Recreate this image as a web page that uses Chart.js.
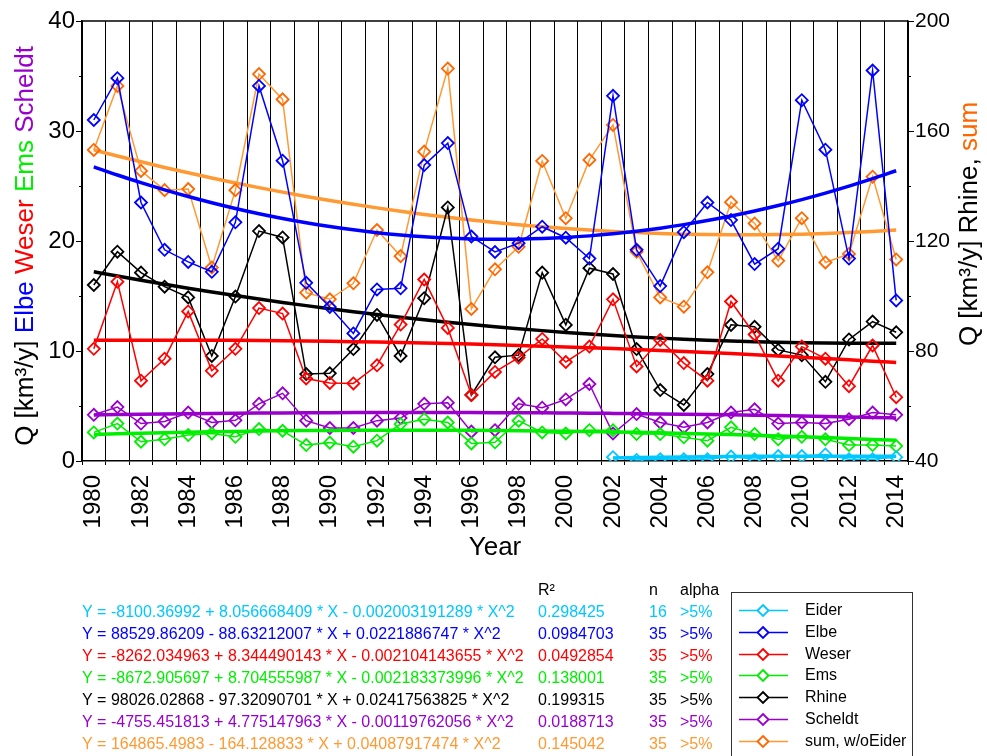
<!DOCTYPE html>
<html>
<head>
<meta charset="utf-8">
<style>
  html, body { margin: 0; padding: 0; background: #fff; }
  #chart { display: block; }
</style>
</head>
<body>
<canvas id="chart" width="987" height="756"></canvas>

<script src="https://cdn.jsdelivr.net/npm/chart.js@4"></script>

<script>
  const years = [1980, 1981, 1982, 1983, 1984, 1985, 1986, 1987, 1988, 1989,
    1990, 1991, 1992, 1993, 1994, 1995, 1996, 1997, 1998, 1999,
    2000, 2001, 2002, 2003, 2004, 2005, 2006, 2007, 2008, 2009,
    2010, 2011, 2012, 2013, 2014];

  // km3/y, left axis
  const eider = [null, null, null, null, null, null, null, null, null, null,
    null, null, null, null, null, null, null, null, null, null,
    null, null, 0.35, 0.1, 0.15, 0.15, 0.15, 0.4, 0.15, 0.45,
    0.45, 0.6, 0.15, 0.15, 0.35];
  const elbe = [31.0, 34.8, 23.5, 19.2, 18.1, 17.2, 21.7, 34.1, 27.3, 16.2,
    14.0, 11.6, 15.6, 15.7, 26.9, 28.9, 20.4, 19.0, 19.8, 21.3,
    20.3, 18.4, 33.2, 19.2, 15.9, 20.8, 23.5, 21.9, 17.9, 19.3,
    32.8, 28.3, 18.4, 35.5, 14.6];
  const weser = [10.2, 16.3, 7.3, 9.3, 13.6, 8.2, 10.2, 13.9, 13.4, 7.5,
    7.1, 7.05, 8.7, 12.4, 16.5, 12.1, 6.0, 8.1, 9.4, 11.1,
    9.0, 10.4, 14.7, 8.6, 11.0, 8.9, 7.3, 14.5, 11.5, 7.3,
    10.4, 9.3, 6.8, 10.5, 5.8];
  const ems = [2.6, 3.4, 1.75, 1.97, 2.36, 2.5, 2.2, 2.9, 2.75, 1.45,
    1.67, 1.3, 1.85, 3.36, 3.8, 3.5, 1.6, 1.7, 3.67, 2.6,
    2.5, 2.8, 2.8, 2.45, 2.45, 2.15, 1.85, 3.06, 2.45, 1.97,
    2.2, 1.97, 1.45, 1.45, 1.36];
  const scheldt = [4.2, 4.9, 3.4, 3.6, 4.4, 3.5, 3.7, 5.2, 6.15, 3.67,
    3.0, 3.0, 3.67, 3.9, 5.2, 5.3, 2.67, 2.8, 5.2, 4.85,
    5.6, 7.0, 2.5, 4.27, 3.5, 3.06, 3.5, 4.4, 4.7, 3.4,
    3.5, 3.4, 3.8, 4.4, 4.2];
  // km3/y, right axis
  const rhine = [104, 116.1, 108.5, 103.4, 99.5, 78.2, 99.8, 123.6, 121.3, 71.6,
    71.9, 80.7, 93.1, 78.2, 99.2, 132.2, 64.0, 77.7, 78.5, 108.5,
    89.5, 110.1, 108.0, 80.7, 65.8, 60.4, 71.6, 89.5, 88.8, 80.4,
    78.5, 68.8, 84.2, 90.7, 86.8];
  const sumWoEider = [153.1, 176.4, 145.5, 138.5, 138.9, 110.4, 138.5, 180.7, 171.5, 101.2,
    98.8, 104.6, 124.0, 114.5, 152.5, 182.7, 95.3, 109.7, 117.9, 149.1,
    128.3, 149.5, 162.2, 116.1, 99.5, 96.1, 108.6, 134.1, 126.4, 112.8,
    128.3, 112.2, 115.3, 143.4, 113.3];

  // quadratic fits as printed under the chart: Y = a + b*X + c*X^2
  const eiderFit = [-8100.36992, 8.056668409, -0.002003191289];
  const elbeFit = [88529.86209, -88.63212007, 0.0221886747];
  const weserFit = [-8262.034963, 8.344490143, -0.002104143655];
  const emsFit = [-8672.905697, 8.704555987, -0.002183373996];
  const rhineFit = [98026.02868, -97.32090701, 0.02417563825];
  const scheldtFit = [-4755.451813, 4.775147963, -0.00119762056];
  const sumFit = [164865.4983, -164.128833, 0.04087917474];

  const seriesNames = ['Eider', 'Elbe', 'Weser', 'Ems', 'Rhine', 'Scheldt', 'sum, w/oEider'];
  const equations = [
    'Y = -8100.36992 + 8.056668409 * X - 0.002003191289 * X^2',
    'Y = 88529.86209 - 88.63212007 * X + 0.0221886747 * X^2',
    'Y = -8262.034963 + 8.344490143 * X - 0.002104143655 * X^2',
    'Y = -8672.905697 + 8.704555987 * X - 0.002183373996 * X^2',
    'Y = 98026.02868 - 97.32090701 * X + 0.02417563825 * X^2',
    'Y = -4755.451813 + 4.775147963 * X - 0.00119762056 * X^2',
    'Y = 164865.4983 - 164.128833 * X + 0.04087917474 * X^2',
  ];
  const rSquared = ['0.298425', '0.0984703', '0.0492854', '0.138001', '0.199315', '0.0188713', '0.145042'];
  const nValues = ['16', '35', '35', '35', '35', '35', '35'];
  const alphas = ['>5%', '>5%', '>5%', '>5%', '>5%', '>5%', '>5%'];

  const FONT = "'Liberation Sans', Arial, sans-serif";
  const lineColors = ['#00C8FF', '#0000FF', '#FF0000', '#00EE00', '#000000', '#9900CC', '#FF9933'];
  const markColors = ['#00C8FF', '#0000FF', '#FF0000', '#00EE00', '#000000', '#9900CC', '#FF6600'];
  const textColors = ['#00C8FF', '#0000FF', '#FF0000', '#00EE00', '#000000', '#9900CC', '#FF9933'];

  const fitLine = (coef, data) => years.map((x, i) =>
    data[i] == null ? null : coef[0] + coef[1] * x + coef[2] * x * x);

  const series = [
    { data: eider, fit: eiderFit, axis: 'y' },
    { data: elbe, fit: elbeFit, axis: 'y' },
    { data: weser, fit: weserFit, axis: 'y' },
    { data: ems, fit: emsFit, axis: 'y' },
    { data: rhine, fit: rhineFit, axis: 'y1' },
    { data: scheldt, fit: scheldtFit, axis: 'y' },
    { data: sumWoEider, fit: sumFit, axis: 'y1' },
  ];

  const datasets = [];
  series.forEach((s, i) => {
    datasets.push({
      label: seriesNames[i],
      data: s.data,
      yAxisID: s.axis,
      borderColor: lineColors[i],
      borderWidth: 1.5,
      pointStyle: 'rectRot',
      pointRadius: 6,
      pointBorderWidth: 1.8,
      pointBorderColor: markColors[i],
      pointBackgroundColor: 'rgba(0,0,0,0)',
      spanGaps: false,
    });
    datasets.push({
      label: seriesNames[i] + ' fit',
      data: fitLine(s.fit, s.data),
      yAxisID: s.axis,
      borderColor: lineColors[i],
      borderWidth: 3.5,
      pointRadius: 0,
      cubicInterpolationMode: 'monotone',
    });
  });

  const drawSegments = (ctx, parts, cx, cy) => {
    const total = parts.reduce((w, p) => w + ctx.measureText(p[0]).width, 0);
    let x = cx - total / 2;
    parts.forEach(p => {
      ctx.fillStyle = p[1];
      ctx.fillText(p[0], x, cy);
      x += ctx.measureText(p[0]).width;
    });
  };

  const decorations = {
    id: 'decorations',
    afterDraw(chart) {
      const ctx = chart.ctx;
      const area = chart.chartArea;
      const yl = chart.scales.y;
      const yr = chart.scales.y1;
      ctx.save();

      // top frame line
      ctx.strokeStyle = '#000';
      ctx.lineWidth = 1.5;
      ctx.beginPath();
      ctx.moveTo(area.left, area.top);
      ctx.lineTo(area.right, area.top);
      ctx.stroke();

      // minor ticks
      ctx.lineWidth = 1;
      ctx.beginPath();
      [5, 15, 25, 35].forEach(v => {
        const py = Math.round(yl.getPixelForValue(v)) + 0.5;
        ctx.moveTo(area.left - 3, py);
        ctx.lineTo(area.left, py);
      });
      [60, 100, 140, 180].forEach(v => {
        const py = Math.round(yr.getPixelForValue(v)) + 0.5;
        ctx.moveTo(area.right, py);
        ctx.lineTo(area.right + 3, py);
      });
      ctx.stroke();

      // axis titles
      ctx.textBaseline = 'middle';
      ctx.textAlign = 'left';
      ctx.font = '26px ' + FONT;
      ctx.save();
      ctx.translate(26, 246);
      ctx.rotate(-Math.PI / 2);
      drawSegments(ctx, [['Q [km\u00B3/y] ', '#000'], ['Elbe ', '#0000FF'], ['Weser ', '#FF0000'],
        ['Ems ', '#00EE00'], ['Scheldt', '#9900CC']], 0, 0);
      ctx.restore();
      ctx.save();
      ctx.translate(970, 224);
      ctx.rotate(-Math.PI / 2);
      drawSegments(ctx, [['Q [km\u00B3/y] Rhine, ', '#000'], ['sum', '#FF6600']], 0, 0);
      ctx.restore();
      drawSegments(ctx, [['Year', '#000']], 495, 548);

      // fit equations table
      ctx.font = '16px ' + FONT;
      ctx.fillStyle = '#000';
      ctx.fillText('R\u00B2', 538, 591);
      ctx.fillText('n', 649, 591);
      ctx.fillText('alpha', 680, 591);
      equations.forEach((eq, i) => {
        const y = 613 + 22 * i;
        ctx.fillStyle = textColors[i];
        ctx.fillText(eq, 82, y);
        ctx.fillText(rSquared[i], 538, y);
        ctx.fillText(nValues[i], 649, y);
        ctx.fillText(alphas[i], 680, y);
      });

      // legend box
      ctx.strokeStyle = '#333';
      ctx.lineWidth = 1;
      ctx.strokeRect(731.5, 592.5, 181, 200);
      seriesNames.forEach((name, i) => {
        const y = Math.round(610 + 21.8 * i) + 0.5;
        ctx.strokeStyle = lineColors[i];
        ctx.lineWidth = 1.5;
        ctx.beginPath();
        ctx.moveTo(739, y);
        ctx.lineTo(788, y);
        ctx.stroke();
        ctx.fillStyle = '#fff';
        ctx.strokeStyle = markColors[i];
        ctx.lineWidth = 1.8;
        ctx.beginPath();
        ctx.moveTo(763, y - 5.5);
        ctx.lineTo(768.5, y);
        ctx.lineTo(763, y + 5.5);
        ctx.lineTo(757.5, y);
        ctx.closePath();
        ctx.fill();
        ctx.stroke();
        ctx.fillStyle = '#000';
        ctx.fillText(name, 805, y);
      });

      ctx.restore();
    },
  };

  Chart.defaults.font.family = FONT;
  Chart.defaults.color = '#000';

  new Chart(document.getElementById('chart'), {
    type: 'line',
    data: { labels: years.map(String), datasets },
    options: {
      responsive: false,
      animation: false,
      devicePixelRatio: 1,
      layout: { padding: { top: 21, left: 0, right: 0, bottom: 0 } },
      plugins: { legend: { display: false }, tooltip: { enabled: false } },
      scales: {
        x: {
          type: 'category',
          offset: true,
          grid: { offset: true, color: '#000', lineWidth: 1, tickLength: 4, tickColor: '#000' },
          border: { color: '#000', width: 1.5 },
          ticks: {
            autoSkip: false,
            maxRotation: 90,
            minRotation: 90,
            padding: 10,
            font: { size: 24 },
            callback: (v, i) => (years[i] % 2 === 0 ? String(years[i]) : ''),
          },
          afterFit: (s) => { s.height = 295; },
        },
        y: {
          position: 'left',
          min: 0,
          max: 40,
          ticks: { stepSize: 5, padding: 1, font: { size: 24 },
            callback: (v) => (v % 10 === 0 ? v : '') },
          grid: { drawOnChartArea: false, tickLength: 6,
            tickColor: (c) => (c.tick && c.tick.value % 10 === 0 ? '#000' : 'rgba(0,0,0,0)') },
          border: { color: '#000', width: 1.5 },
          afterFit: (s) => { s.width = 82; },
        },
        y1: {
          position: 'right',
          min: 40,
          max: 200,
          ticks: { stepSize: 20, padding: 1, font: { size: 21 },
            callback: (v) => ((v - 40) % 40 === 0 ? v : '') },
          grid: { drawOnChartArea: false, tickLength: 6,
            tickColor: (c) => (c.tick && (c.tick.value - 40) % 40 === 0 ? '#000' : 'rgba(0,0,0,0)') },
          border: { color: '#000', width: 1.5 },
          afterFit: (s) => { s.width = 79; },
        },
      },
    },
    plugins: [decorations],
  });
</script>
</body>
</html>
